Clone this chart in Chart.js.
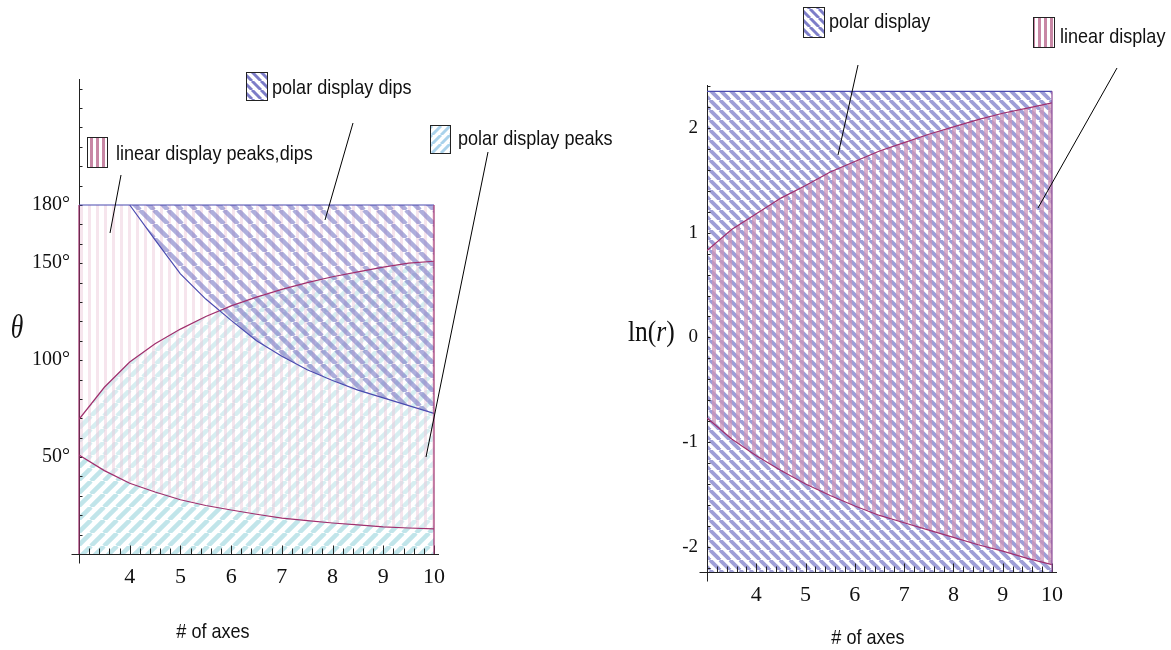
<!DOCTYPE html>
<html>
<head>
<meta charset="utf-8">
<script src="https://cdn.jsdelivr.net/npm/chart.js@4"></script>
<style>
html, body { margin: 0; padding: 0; background: #fff; }
#wrap { position: relative; width: 1171px; height: 650px; }
#wrap canvas { position: absolute; left: 0; top: 0; }
</style>
</head>
<body>
<div id="wrap">
  <canvas id="leftChart" width="1171" height="650"></canvas>
  <canvas id="rightChart" width="1171" height="650"></canvas>
</div>
<script>
// ---- data ----
// left panel: theta (degrees) against number of axes
const axesX = [3, 3.5, 4, 4.5, 5, 5.5, 6, 6.5, 7, 7.5, 8, 8.5, 9, 9.5, 10]
const linearLow = [51, 43, 36.5, 32, 28, 25, 22.7, 20.5, 18.5, 17.2, 16, 15, 14, 13.4, 13]
const polarPeaks = [69.5, 86, 99, 108.5, 116, 122.5, 128, 132.5, 136.5, 140, 143, 145.5, 148, 150, 151]
const dipsX = [4, 4.5, 5, 5.5, 6, 6.5, 7, 7.5, 8, 8.5, 9, 9.5, 10]
const polarDips = [180, 162, 144.5, 131.5, 120.5, 110, 102, 95, 89.5, 84.5, 80.5, 76.5, 72.5]
const thetaTop = 180
const leftXTicks = [4, 5, 6, 7, 8, 9, 10]
const leftYTicks = [50, 100, 150, 180]

// right panel: ln(r) against number of axes
const linearUpper = [0.83, 1.03, 1.18, 1.33, 1.45, 1.58, 1.68, 1.78, 1.86, 1.94, 2.01, 2.08, 2.14, 2.19, 2.24]
const linearLower = [-0.77, -0.97, -1.13, -1.27, -1.40, -1.51, -1.61, -1.70, -1.77, -1.84, -1.91, -1.98, -2.04, -2.11, -2.17]
const polarTop = 2.35
const rightXTicks = [4, 5, 6, 7, 8, 9, 10]
const rightYTicks = [-2, -1, 0, 1, 2]

const serif = '"Liberation Serif", "Times New Roman", serif'
const sans = '"Liberation Sans", Arial, sans-serif'
const blue = '#4b4bb0'
const magenta = '#a0306e'

function pts(xs, ys) {
    return xs.map((x, i) => ({x: x, y: ys[i]}))
}

//striped fill patterns, dir is '|', '\\' or '/'
function stripes(target, color, size, width, dir, bg) {
    let c = document.createElement('canvas')
    c.width = size
    c.height = size
    let g = c.getContext('2d')
    if (bg) { g.fillStyle = bg; g.fillRect(0, 0, size, size) }
    g.fillStyle = color
    g.strokeStyle = color
    g.lineWidth = width
    if (dir == '|') {
        g.fillRect(0, 0, width, size)
    } else {
        for (let k = -1; k <= 1; k++) {
            g.beginPath()
            if (dir == '\\') { g.moveTo(k * size, 0); g.lineTo(k * size + size, size) }
            else { g.moveTo(k * size, size); g.lineTo(k * size + size, 0) }
            g.stroke()
        }
    }
    return target.getContext('2d').createPattern(c, 'repeat')
}

//text squeezed sideways like the narrow type of the figure
function squeezed(ctx, runs, x, y, sx, align) {
    ctx.save()
    ctx.translate(x, y)
    ctx.scale(sx, 1)
    ctx.textBaseline = 'middle'
    let total = 0
    runs.forEach(r => { ctx.font = r.font; total += ctx.measureText(r.t).width })
    let cx = align == 'center' ? -total / 2 : 0
    ctx.textAlign = 'left'
    ctx.fillStyle = '#111'
    runs.forEach(r => {
        ctx.font = r.font
        ctx.fillText(r.t, cx, 0)
        cx += ctx.measureText(r.t).width
    })
    ctx.restore()
}

//axes with inward ticks, labelled boxes and leader lines
function decor(cfg) {
    return {
        id: 'decor',
        beforeDatasetsDraw(chart) {
            let ctx = chart.ctx
            let x = chart.scales.x, y = chart.scales.y
            let ox = Math.round(x.getPixelForValue(x.min)) + 0.5
            let oy = Math.round(y.getPixelForValue(y.min)) + 0.5
            ctx.save()
            ctx.strokeStyle = '#222'
            ctx.lineWidth = 1
            ctx.beginPath()
            ctx.moveTo(ox - 8, oy); ctx.lineTo(x.right + 5, oy)
            ctx.moveTo(ox, y.top); ctx.lineTo(ox, oy + 9)
            let nx = Math.round((x.max - x.min) / cfg.xStep)
            for (let i = 1; i <= nx; i++) {
                let v = x.min + i * cfg.xStep
                let px = Math.round(x.getPixelForValue(v)) + 0.5
                let len = Math.abs(v - Math.round(v)) < 1e-6 ? 9 : 6
                ctx.moveTo(px, oy); ctx.lineTo(px, oy - len)
            }
            for (let k = Math.ceil(y.min / cfg.yStep - 1e-6); k * cfg.yStep <= y.max + 1e-6; k++) {
                let v = k * cfg.yStep
                if (Math.abs(v - y.min) < 1e-6) continue
                let py = Math.round(y.getPixelForValue(v)) + 0.5
                ctx.moveTo(ox, py); ctx.lineTo(ox + 3, py)
            }
            ctx.stroke()
            ctx.restore()
        },
        afterDraw(chart) {
            let ctx = chart.ctx
            ctx.save()
            cfg.notes.forEach(n => {
                ctx.strokeStyle = '#000'
                ctx.lineWidth = 1
                ctx.beginPath()
                ctx.moveTo(n.from[0], n.from[1]); ctx.lineTo(n.to[0], n.to[1])
                ctx.stroke()
                let b = n.box
                ctx.fillStyle = '#fff'
                ctx.fillRect(b[0], b[1], b[2], b[3])
                ctx.fillStyle = n.pattern
                ctx.fillRect(b[0], b[1], b[2], b[3])
                ctx.strokeStyle = '#222'
                ctx.strokeRect(b[0] + 0.5, b[1] + 0.5, b[2], b[3])
                squeezed(ctx, [{t: n.text, font: '21px ' + sans}], n.at[0], n.at[1], 0.86, 'left')
            })
            cfg.texts.forEach(t => squeezed(ctx, t.runs, t.at[0], t.at[1], t.sx, t.align))
            ctx.restore()
        }
    }
}

function baseScales(xTicks, yTicks, yFmt, xMin, xMax, yMin, yMax, xH, yW, xSize, ySize) {
    return {
        x: {
            type: 'linear', min: xMin, max: xMax,
            grid: {display: false, drawTicks: false}, border: {display: false},
            afterBuildTicks: s => { s.ticks = xTicks.map(v => ({value: v})) },
            afterFit: s => { s.height = xH },
            ticks: {font: {family: serif, size: xSize}, color: '#111', padding: 10, maxRotation: 0, autoSkip: false}
        },
        y: {
            type: 'linear', min: yMin, max: yMax,
            grid: {display: false, drawTicks: false}, border: {display: false},
            afterBuildTicks: s => { s.ticks = yTicks.map(v => ({value: v})) },
            afterFit: s => { s.width = yW },
            ticks: {font: {family: serif, size: ySize}, color: '#111', padding: 9, autoSkip: false, callback: yFmt}
        }
    }
}

const common = {
    responsive: false,
    animation: false,
    plugins: {legend: {display: false}, tooltip: {enabled: false}, filler: {drawTime: 'beforeDatasetsDraw'}},
    elements: {point: {radius: 0}, line: {tension: 0, borderWidth: 1.2}}
}

// ---- left chart ----
let leftCanvas = document.getElementById('leftChart')
let dipsFill = stripes(leftCanvas, 'rgba(125,125,198,0.62)', 14, 4.5, '\\')
let peaksFill = stripes(leftCanvas, 'rgba(182,225,230,0.85)', 13, 4.5, '/')
let linearFill = stripes(leftCanvas, 'rgba(236,198,215,0.45)', 8, 3, '|', 'rgba(255,255,255,0.35)')

new Chart(leftCanvas, {
    type: 'line',
    data: {
        datasets: [
            {data: [{x: 3, y: 0}, {x: 3, y: thetaTop}], borderColor: magenta, fill: false, clip: false},
            {data: [{x: 10, y: 0}, {x: 10, y: thetaTop}], borderColor: magenta, fill: false, clip: false},
            {data: [{x: 3, y: thetaTop}, {x: 10, y: thetaTop}], borderColor: blue, fill: false, clip: false},
            {data: pts(dipsX, polarDips), borderColor: blue, backgroundColor: dipsFill, fill: {value: thetaTop}},
            {data: pts(axesX, linearLow), borderColor: magenta, backgroundColor: linearFill, fill: {value: thetaTop}},
            {data: pts(axesX, polarPeaks), borderColor: magenta, backgroundColor: peaksFill, fill: 'origin'}
        ]
    },
    options: Object.assign({}, common, {
        layout: {padding: {left: 0, top: 79, right: 1171 - 434, bottom: 0}},
        scales: baseScales(leftXTicks, leftYTicks, v => v + '°', 3, 10, 0, 245, 96, 79, 22, 20)
    }),
    plugins: [decor({
        xStep: 0.2, yStep: 10,
        notes: [
            {text: 'linear display peaks,dips', box: [87, 137, 20, 30], at: [116, 154],
             pattern: stripes(leftCanvas, 'rgb(200,135,165)', 6, 3, '|'), from: [121, 175], to: [110, 233]},
            {text: 'polar display dips', box: [246, 72, 21, 28], at: [272, 88],
             pattern: stripes(leftCanvas, 'rgb(125,125,200)', 9, 3, '\\'), from: [353, 123], to: [325, 220]},
            {text: 'polar display peaks', box: [430, 125, 20, 28], at: [458, 139],
             pattern: stripes(leftCanvas, 'rgb(170,210,235)', 9, 3, '/'), from: [488, 152], to: [426, 457]}
        ],
        texts: [
            {runs: [{t: 'θ', font: 'italic 34px ' + serif}], at: [17, 329], sx: 0.75, align: 'center'},
            {runs: [{t: '# of axes', font: '21px ' + sans}], at: [213, 632], sx: 0.86, align: 'center'}
        ]
    })]
})

// ---- right chart ----
let rightCanvas = document.getElementById('rightChart')
let polarFill = stripes(rightCanvas, 'rgba(145,145,210,0.88)', 10, 3.8, '\\')
let linFill = stripes(rightCanvas, 'rgba(208,150,184,0.72)', 8, 4, '|')

new Chart(rightCanvas, {
    type: 'line',
    data: {
        datasets: [
            {data: [{x: 10, y: -2.24}, {x: 10, y: polarTop}], borderColor: '#8a4a98', fill: false, clip: false},
            {data: pts(axesX, linearUpper), borderColor: magenta, backgroundColor: linFill, fill: '+1'},
            {data: pts(axesX, linearLower), borderColor: magenta, fill: false},
            {data: [{x: 3, y: polarTop}, {x: 10, y: polarTop}], borderColor: blue, backgroundColor: polarFill, fill: 'start'}
        ]
    },
    options: Object.assign({}, common, {
        layout: {padding: {left: 707 - 50, top: 85, right: 1171 - 1052, bottom: 0}},
        scales: baseScales(rightXTicks, rightYTicks, v => String(v), 3, 10, -2.24, 2.41, 78, 50, 22, 19)
    }),
    plugins: [decor({
        xStep: 0.2, yStep: 0.2,
        notes: [
            {text: 'polar display', box: [803, 7, 21, 30], at: [829, 22],
             pattern: stripes(rightCanvas, 'rgb(125,125,200)', 9, 3, '\\'), from: [858, 65], to: [838, 155]},
            {text: 'linear display', box: [1033, 17, 21, 30], at: [1060, 37],
             pattern: stripes(rightCanvas, 'rgb(200,135,165)', 6, 3, '|'), from: [1117, 68], to: [1038, 208]}
        ],
        texts: [
            {runs: [{t: 'ln(', font: '30px ' + serif}, {t: 'r', font: 'italic 30px ' + serif}, {t: ')', font: '30px ' + serif}],
             at: [628, 333], sx: 0.85, align: 'left'},
            {runs: [{t: '# of axes', font: '21px ' + sans}], at: [868, 638], sx: 0.86, align: 'center'}
        ]
    })]
})
</script>
</body>
</html>
